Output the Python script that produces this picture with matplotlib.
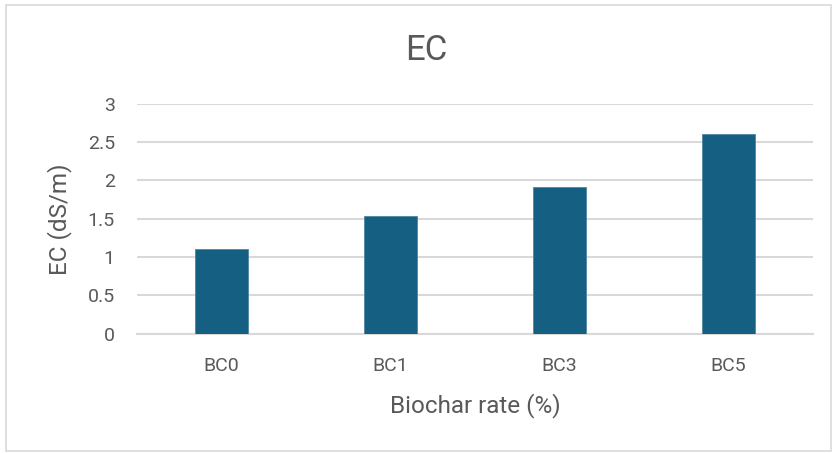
import matplotlib
matplotlib.use("Agg")
import matplotlib.pyplot as plt
from matplotlib.patches import Rectangle

categories = ["BC0", "BC1", "BC3", "BC5"]
ec_values = [1.10, 1.53, 1.92, 2.60]
y_ticks = [0, 0.5, 1, 1.5, 2, 2.5, 3]
y_tick_labels = ["0", "0.5", "1", "1.5", "2", "2.5", "3"]

plt.rcParams["font.family"] = ["Roboto", "DejaVu Sans"]
text_color = "#595959"
grid_color = "#d9d9d9"
bar_color = "#156082"

W, H = 836, 453
fig = plt.figure(figsize=(W / 100, H / 100), dpi=100)
fig.patch.set_facecolor("white")

# chart-area border
fig.add_artist(Rectangle((6 / W, 1 - 451 / H), 825 / W, 446 / H,
                         transform=fig.transFigure, fill=False,
                         edgecolor=grid_color, linewidth=1.2))

ax = fig.add_axes([137 / W, 1 - 333.7 / H, 676 / W, 230 / H])
x = range(len(categories))
ax.bar(x, ec_values, width=0.31, color=bar_color, edgecolor="#4f86a3",
       linewidth=0.6, zorder=3)

ax.set_xlim(-0.5, len(categories) - 0.5)
ax.set_ylim(0, 3)
ax.set_yticks(y_ticks)
ax.set_yticklabels(y_tick_labels)
ax.set_xticks(list(x))
ax.set_xticklabels(categories)

ax.grid(axis="y", color=grid_color, linewidth=1.5, zorder=0)
ax.set_axisbelow(True)
for side in ["top", "right", "left"]:
    ax.spines[side].set_visible(False)
ax.spines["bottom"].set_color(grid_color)
ax.spines["bottom"].set_linewidth(1.5)

ax.tick_params(axis="both", length=0, colors=text_color, labelsize=14)
ax.tick_params(axis="y", pad=16)
ax.tick_params(axis="x", pad=16.5)

fig.text(475 / W, 1 - 412 / H, "Biochar rate (%)", ha="center",
         va="baseline", fontsize=17.5, color=text_color)
fig.text(60 / W, 1 - 219 / H, "EC (dS/m)", ha="center", va="center",
         rotation=90, fontsize=17.5, color=text_color)
fig.text(426 / W, 1 - 60 / H, "EC", ha="center", va="baseline",
         fontsize=25, color=text_color)

fig.savefig("out.png", dpi=100, facecolor="white")
